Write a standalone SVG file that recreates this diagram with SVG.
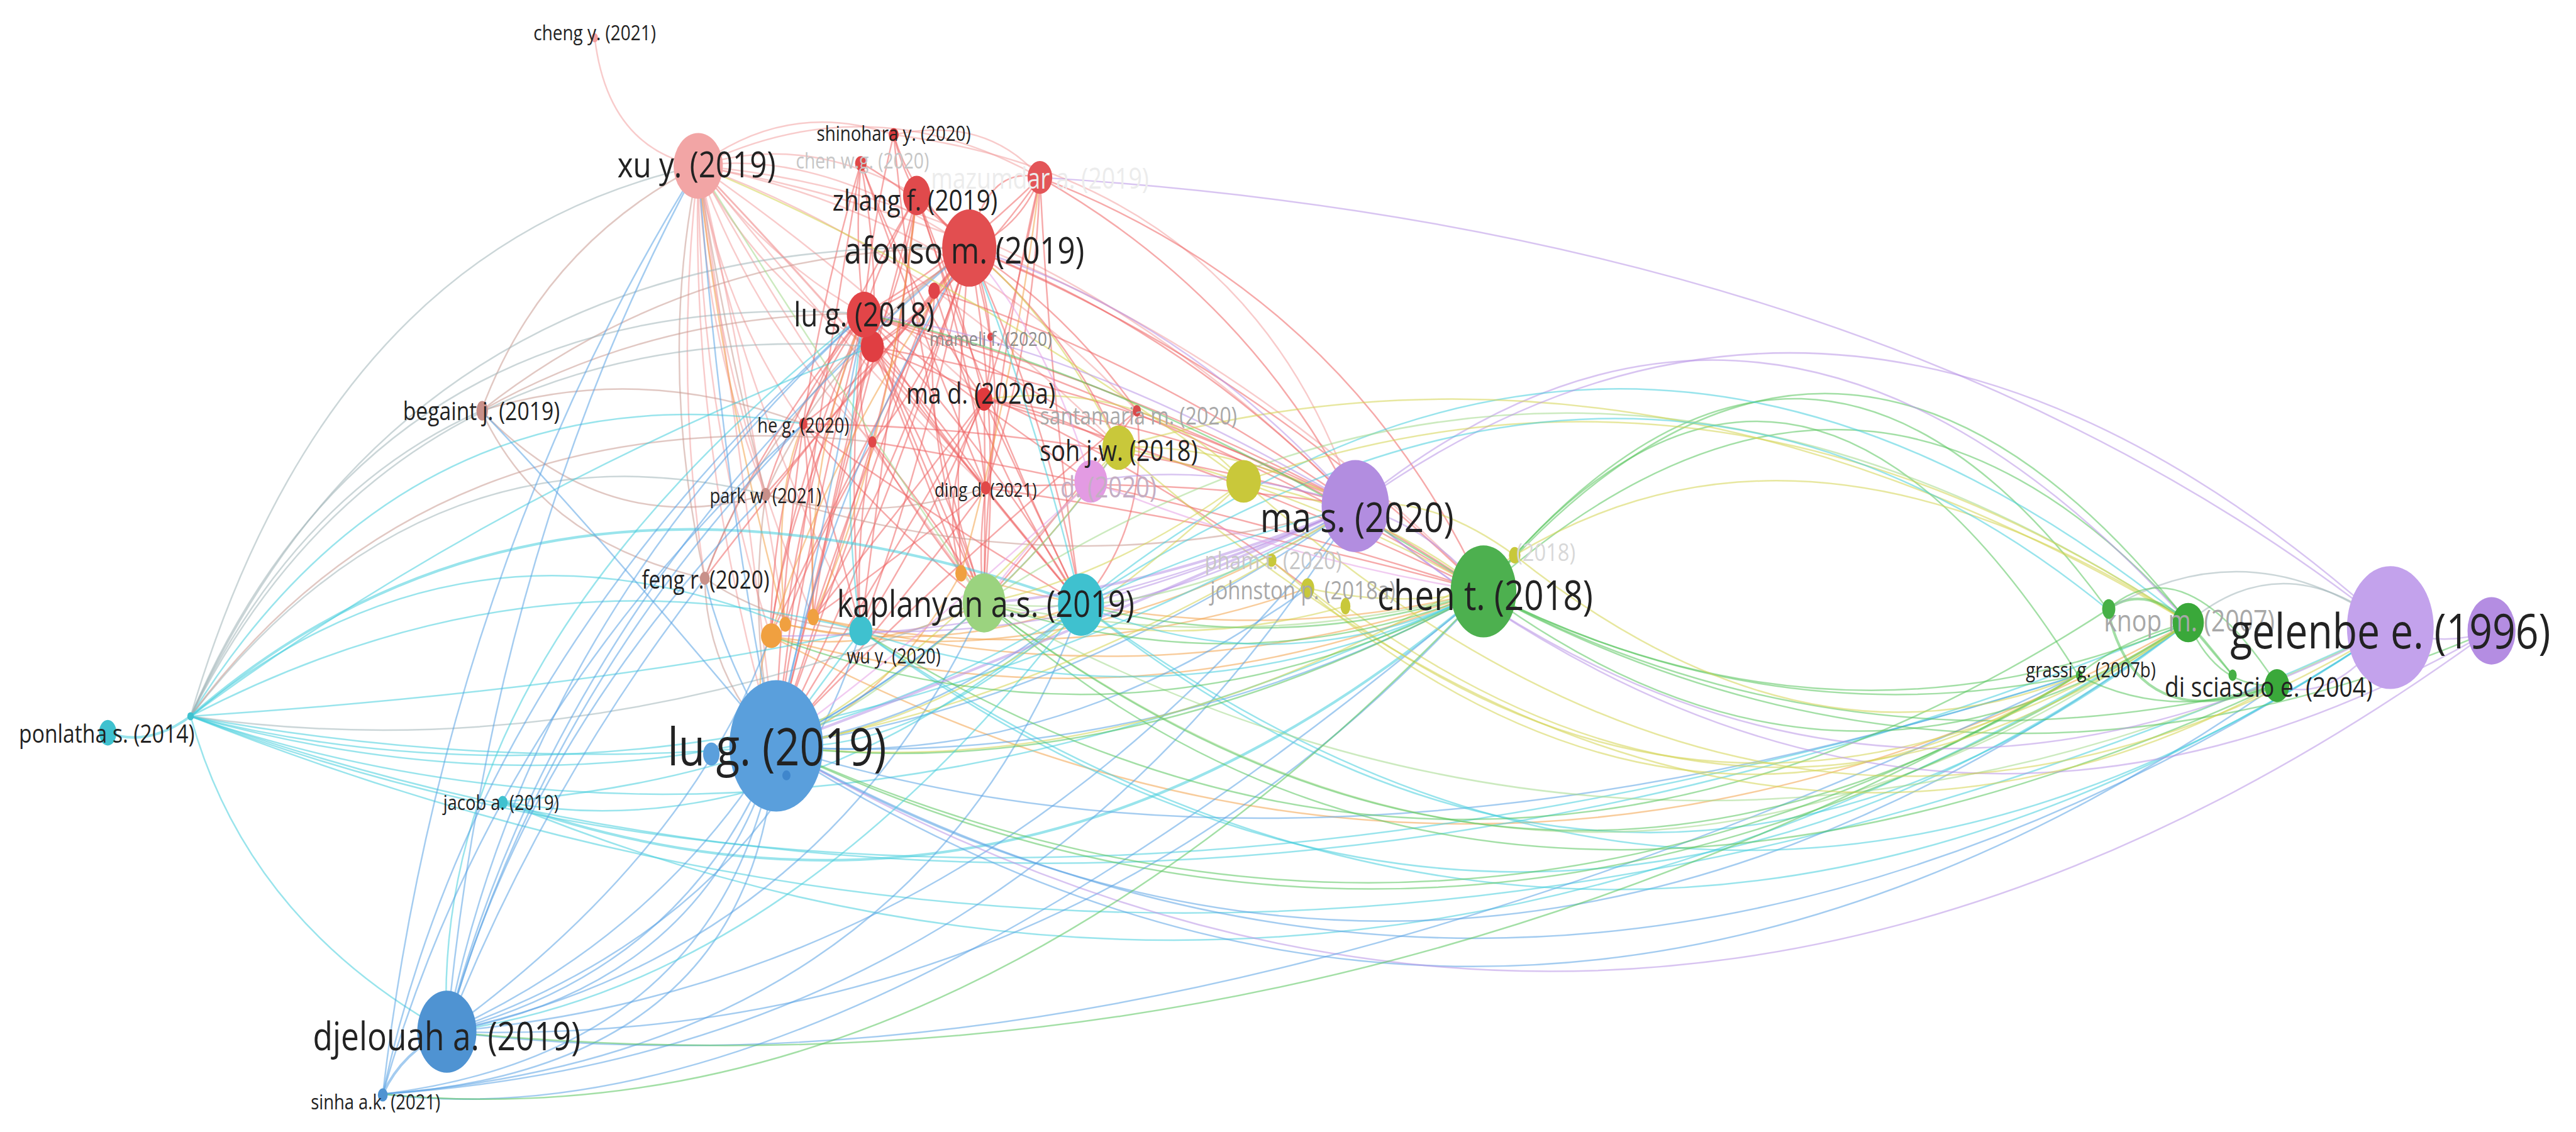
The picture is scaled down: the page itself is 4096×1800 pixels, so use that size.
<svg xmlns="http://www.w3.org/2000/svg" width="4096" height="1800" viewBox="0 0 4096 1800">
<style>
.e{fill:none;stroke-width:.95;stroke-opacity:.55}
.t{stroke-width:1.6}
.r{stroke:#ee6464}.p{stroke:#f3a0a0}.b{stroke:#5aa2e4}.c{stroke:#45cddd}.g{stroke:#58c45c}.v{stroke:#b893e6}.y{stroke:#d4d450}.o{stroke:#f3a24a}.n{stroke:#c89a92}.l{stroke:#a3d88a}.m{stroke:#e6a0e6}.s{stroke:#a0b4b8}
text{font-family:"Open Sans","Liberation Sans",sans-serif;text-anchor:middle;dominant-baseline:central;fill:#222}
.f1{fill:#ececec}.f2{fill:#c6c6c6}.f3{fill:#8c8c8c}.f4{fill:#a8a8a8}.f5{fill:#c4aec4}.f6{fill:#d8d8d8}
</style>
<rect width="4096" height="1800" fill="#fff"/>
<g transform="scale(2.6122)">
<g id="connectors">
<path class="e p" d="M425 101Q470 160 526 191"/><path class="e p" d="M425 101Q465 175 531 211"/><path class="e p" d="M425 101Q440 190 489 258"/><path class="e p" d="M425 101Q460 200 531 269"/><path class="e p" d="M425 101Q430 210 466 301"/><path class="e p" d="M425 101Q500 180 600 297"/><path class="e p" d="M425 101Q510 160 599 243"/><path class="e p" d="M425 101Q420 280 472 454"/><path class="e p" d="M425 101Q425 250 469 387"/><path class="e p" d="M425 101Q440 250 495 376"/><path class="e p" d="M425 101Q410 230 429 352"/><path class="e p" d="M425 101Q450 240 524 384"/><path class="e p" d="M425 101Q490 220 599 367"/><path class="e p" d="M425 101Q530 210 658 368"/><path class="e p" d="M425 101Q500 90 590 151"/><path class="e p" d="M425 101Q490 80 558 119"/><path class="e p" d="M425 101Q530 50 633 108"/><path class="e p" d="M425 101Q640 120 825 308"/><path class="e p" d="M425 101Q700 150 903 360"/><path class="e p" d="M425 101Q480 60 544 82"/><path class="e p" d="M362 23Q370 90 425 101"/><path class="e p" d="M425 101Q560 150 681 272"/><path class="e p" d="M425 101Q580 130 692 250"/><path class="e p" d="M425 101Q520 220 600 297"/><path class="e p" d="M425 101Q445 180 478 380"/><path class="e p" d="M425 101Q455 300 472 454"/>
<path class="e r" d="M590 151Q555 180 526 191"/><path class="e r" d="M590 151Q570 190 531 211"/><path class="e r" d="M590 151Q570 130 558 119"/><path class="e r" d="M590 151Q610 200 599 243"/><path class="e r" d="M590 151Q540 220 489 258"/><path class="e r" d="M590 151Q570 225 531 269"/><path class="e r" d="M590 151Q615 230 600 297"/><path class="e r" d="M590 151Q520 240 466 301"/><path class="e r" d="M590 151Q540 320 472 454"/><path class="e r" d="M590 151Q550 280 495 376"/><path class="e r" d="M590 151Q610 260 599 367"/><path class="e r" d="M590 151Q640 260 658 368"/><path class="e r" d="M590 151Q720 200 825 308"/><path class="e r" d="M590 151Q760 220 903 360"/><path class="e r" d="M590 151Q650 200 681 272"/><path class="e r" d="M590 151Q650 190 692 250"/><path class="e r" d="M590 151Q555 120 544 82"/><path class="e r" d="M590 151Q620 140 633 108"/><path class="e r" d="M590 151Q560 290 524 384"/><path class="e r" d="M590 151Q500 260 429 352"/><path class="e r" d="M590 151Q530 260 469 387"/><path class="e r" d="M590 151Q580 260 585 349"/><path class="e r" d="M590 151Q600 100 633 108"/>
<path class="e r" d="M558 119Q535 160 526 191"/><path class="e r" d="M558 119Q550 170 531 211"/><path class="e r" d="M558 119Q585 185 599 243"/><path class="e r" d="M558 119Q515 190 489 258"/><path class="e r" d="M558 119Q510 300 472 454"/><path class="e r" d="M558 119Q550 200 531 269"/><path class="e r" d="M558 119Q590 210 600 297"/><path class="e r" d="M558 119Q548 100 544 82"/><path class="e r" d="M558 119Q600 250 658 368"/><path class="e r" d="M558 119Q540 260 524 384"/>
<path class="e r" d="M544 82Q530 140 526 191"/><path class="e p" d="M544 82Q600 70 633 108"/><path class="e p" d="M544 82Q760 110 825 308"/><path class="e r" d="M544 82Q560 250 599 367"/>
<path class="e r" d="M524 99Q520 150 526 191"/><path class="e r" d="M524 99Q535 160 531 211"/><path class="e r" d="M524 99Q560 120 590 151"/><path class="e r" d="M524 99Q555 180 599 243"/><path class="e r" d="M524 99Q500 180 489 258"/><path class="e r" d="M524 99Q560 200 600 297"/><path class="e r" d="M524 99Q490 300 472 454"/>
<path class="e r" d="M633 108Q590 170 531 211"/><path class="e r" d="M633 108Q620 180 599 243"/><path class="e r" d="M633 108Q630 210 600 297"/><path class="e r" d="M633 108Q820 180 903 360"/><path class="e r" d="M633 108Q760 180 825 308"/><path class="e r" d="M633 108Q580 160 526 191"/><path class="e r" d="M633 108Q640 250 658 368"/><path class="e r" d="M633 108Q600 250 599 367"/>
<path class="e r" d="M526 191Q490 330 472 454"/><path class="e r" d="M526 191Q480 300 469 387"/><path class="e r" d="M526 191Q490 290 478 380"/><path class="e r" d="M526 191Q515 290 524 384"/><path class="e r" d="M526 191Q560 280 599 367"/><path class="e r" d="M526 191Q600 270 658 368"/><path class="e r" d="M526 191Q680 230 825 308"/><path class="e r" d="M526 191Q720 250 903 360"/><path class="e r" d="M526 191Q460 270 429 352"/><path class="e r" d="M526 191Q480 250 466 301"/><path class="e r" d="M526 191Q560 250 600 297"/><path class="e r" d="M526 191Q610 220 681 272"/><path class="e r" d="M526 191Q600 250 664 293"/><path class="e r" d="M526 191Q520 260 531 269"/><path class="e r" d="M526 191Q500 230 489 258"/>
<path class="e r" d="M531 211Q500 340 472 454"/><path class="e r" d="M531 211Q505 300 495 376"/><path class="e r" d="M531 211Q575 290 599 367"/><path class="e r" d="M531 211Q560 280 585 349"/><path class="e r" d="M531 211Q690 240 825 308"/><path class="e r" d="M531 211Q680 270 796 358"/><path class="e r" d="M531 211Q570 250 600 297"/><path class="e r" d="M531 211Q480 300 469 387"/><path class="e r" d="M531 211Q600 300 658 368"/>
<path class="e r" d="M599 243Q530 360 472 454"/><path class="e r" d="M599 243Q630 310 658 368"/><path class="e r" d="M599 243Q600 300 599 367"/><path class="e r" d="M599 243Q720 260 825 308"/><path class="e r" d="M599 243Q760 290 903 360"/><path class="e r" d="M599 243Q640 250 681 272"/><path class="e r" d="M599 243Q540 320 495 376"/><path class="e r" d="M599 243Q570 300 585 349"/><path class="e r" d="M599 243Q560 330 524 384"/>
<path class="e r" d="M489 258Q475 360 472 454"/><path class="e r" d="M489 258Q470 320 469 387"/><path class="e r" d="M489 258Q540 320 599 367"/><path class="e r" d="M489 258Q560 310 658 368"/><path class="e r" d="M489 258Q660 260 825 308"/><path class="e r" d="M489 258Q510 330 524 384"/><path class="e r" d="M489 258Q495 320 495 376"/>
<path class="e r" d="M531 269Q500 370 472 454"/><path class="e r" d="M531 269Q495 330 478 380"/><path class="e r" d="M531 269Q520 330 524 384"/><path class="e r" d="M531 269Q720 300 903 360"/><path class="e r" d="M531 269Q555 310 585 349"/><path class="e r" d="M531 269Q580 330 599 367"/>
<path class="e r" d="M600 297Q540 380 472 454"/><path class="e r" d="M600 297Q595 335 599 367"/><path class="e r" d="M600 297Q630 335 658 368"/><path class="e r" d="M600 297Q710 290 825 308"/><path class="e r" d="M600 297Q760 320 903 360"/><path class="e r" d="M600 297Q545 340 495 376"/>
<path class="e r" d="M692 250Q560 360 472 454"/><path class="e r" d="M692 250Q640 320 599 367"/><path class="e r" d="M692 250Q800 290 903 360"/><path class="e r" d="M692 250Q700 320 658 368"/>
<path class="e r" d="M569 177Q520 320 472 454"/><path class="e r" d="M569 177Q600 280 658 368"/><path class="e r" d="M569 177Q700 220 825 308"/><path class="e r" d="M569 177Q560 280 599 367"/><path class="e r" d="M569 177Q520 300 495 376"/>
<path class="e o" d="M469 387Q690 450 903 360"/><path class="e o" d="M478 380Q650 420 825 308"/><path class="e o" d="M495 376Q700 430 903 360"/><path class="e o" d="M585 349Q745 400 903 360"/><path class="e o" d="M469 387Q510 260 590 151"/><path class="e o" d="M478 380Q440 240 425 101"/><path class="e o" d="M495 376Q490 280 526 191"/><path class="e o" d="M585 349Q540 430 472 454"/><path class="e o" d="M469 387Q455 420 472 454"/><path class="e o" d="M495 376Q650 410 796 358"/><path class="e o" d="M478 380Q570 400 658 368"/><path class="e o" d="M585 349Q620 220 633 108"/><path class="e o" d="M469 387Q530 400 599 367"/><path class="e o" d="M469 387Q900 620 1332 379"/><path class="e o" d="M478 380Q470 300 489 258"/><path class="e o" d="M495 376Q540 280 558 119"/>
<path class="e n" d="M293 250Q400 190 526 191"/><path class="e n" d="M293 250Q330 150 425 101"/><path class="e n" d="M293 250Q370 330 466 301"/><path class="e n" d="M293 250Q390 220 489 258"/><path class="e n" d="M293 250Q420 150 590 151"/><path class="e n" d="M429 352Q430 410 472 454"/><path class="e n" d="M429 352Q400 220 425 101"/><path class="e n" d="M429 352Q470 240 590 151"/><path class="e n" d="M429 352Q470 380 524 384"/><path class="e n" d="M466 301Q455 380 472 454"/><path class="e n" d="M466 301Q440 200 425 101"/><path class="e n" d="M466 301Q500 220 590 151"/><path class="e n" d="M466 301Q530 320 600 297"/><path class="e n" d="M466 301Q650 360 825 308"/><path class="e n" d="M429 352Q330 330 293 250"/>
<path class="e s" d="M116 436Q230 170 526 191"/><path class="e s" d="M116 436Q240 190 531 211"/><path class="e c" d="M116 436Q250 220 489 258"/><path class="e s" d="M116 436Q260 250 466 301"/><path class="e n" d="M116 436Q260 240 531 269"/><path class="e s" d="M116 436Q250 140 590 151"/><path class="e s" d="M116 436Q200 150 425 101"/><path class="e c t" d="M116 436Q330 250 658 368"/><path class="e c" d="M116 436Q300 470 472 454"/><path class="e c" d="M116 436Q480 560 903 360"/><path class="e c" d="M116 436Q700 640 1332 379"/><path class="e c" d="M116 436Q450 520 825 308"/><path class="e s" d="M116 436Q350 470 599 367"/><path class="e c" d="M116 436Q150 560 272 628"/><path class="e c t" d="M116 436Q90 455 65.6 446"/><path class="e c" d="M116 436Q320 330 524 384"/><path class="e c" d="M116 436Q780 700 1455 382"/><path class="e s" d="M116 436Q180 300 293 250"/><path class="e c" d="M116 436Q280 300 478 380"/><path class="e c" d="M116 436Q300 300 531 211"/><path class="e c" d="M116 436Q420 520 658 368"/><path class="e c" d="M116 436Q360 420 524 384"/><path class="e c" d="M116 436Q600 620 1265 411"/>
<path class="e c t" d="M306 488Q620 600 903 360"/><path class="e c" d="M306 488Q480 520 658 368"/><path class="e c" d="M306 488Q400 480 472 454"/><path class="e c" d="M306 488Q820 700 1332 379"/><path class="e c" d="M272 628Q260 400 526 191"/>
<path class="e b" d="M272 628Q420 590 472 454"/><path class="e b" d="M272 628Q430 600 472 454"/><path class="e b" d="M272 628Q400 570 472 454"/><path class="e b" d="M233 666Q440 640 472 454"/><path class="e b" d="M233 666Q460 650 472 454"/><path class="e b" d="M272 628Q470 560 524 384"/><path class="e b" d="M272 628Q500 580 599 367"/><path class="e b" d="M272 628Q420 520 469 387"/><path class="e b" d="M272 628Q600 600 825 308"/><path class="e b" d="M272 628Q650 640 903 360"/><path class="e b" d="M233 666Q620 640 825 308"/><path class="e b" d="M233 666Q560 640 658 368"/><path class="e b" d="M272 628Q320 380 526 191"/><path class="e b" d="M272 628Q300 330 425 101"/><path class="e b" d="M272 628Q340 360 590 151"/><path class="e b" d="M272 628Q330 420 489 258"/><path class="e b" d="M272 628Q320 450 466 301"/><path class="e b" d="M233 666Q290 400 526 191"/><path class="e b" d="M233 666Q270 350 425 101"/><path class="e b t" d="M233 666Q245 640 272 628"/><path class="e b" d="M272 628Q330 480 429 352"/><path class="e b" d="M233 666Q300 430 489 258"/>
<path class="e b" d="M472 454Q440 300 425 101"/><path class="e b" d="M472 454Q500 300 590 151"/><path class="e b" d="M472 454Q500 330 526 191"/><path class="e b" d="M472 454Q650 430 825 308"/><path class="e b" d="M472 454Q700 470 903 360"/><path class="e b" d="M472 454Q950 720 1455 382"/><path class="e b" d="M472 454Q900 700 1332 379"/><path class="e b" d="M472 454Q920 740 1386 417"/><path class="e b" d="M472 454Q540 420 599 367"/><path class="e b" d="M472 454Q570 440 658 368"/><path class="e b" d="M472 454Q360 320 293 250"/><path class="e b" d="M472 454Q440 400 429 352"/><path class="e b" d="M472 454Q640 470 796 358"/><path class="e b" d="M472 454Q600 390 681 272"/><path class="e v" d="M472 454Q1000 760 1516 384"/><path class="e b" d="M233 666Q500 700 903 360"/><path class="e b" d="M272 628Q700 680 1265 411"/><path class="e b" d="M472 454Q800 560 1265 411"/>
<path class="e c" d="M658 368Q1000 640 1332 379"/><path class="e c" d="M658 368Q1050 660 1455 382"/><path class="e c" d="M524 384Q930 680 1332 379"/><path class="e l" d="M599 367Q960 640 1332 379"/><path class="e g" d="M599 367Q930 620 1265 411"/><path class="e c" d="M524 384Q980 700 1455 382"/><path class="e l" d="M599 367Q1020 600 1455 382"/><path class="e g" d="M1265 411Q880 640 472 454"/><path class="e g" d="M1283 371Q900 620 524 384"/><path class="e g" d="M1265 411Q800 680 272 628"/><path class="e g" d="M1332 379Q900 660 472 454"/><path class="e g" d="M1386 417Q900 640 599 367"/>
<path class="e g" d="M903 360Q1120 470 1332 379"/><path class="e g" d="M903 360Q1080 450 1265 411"/><path class="e g" d="M903 360Q1130 480 1386 417"/><path class="e g" d="M903 360Q1120 110 1332 379"/><path class="e g" d="M903 360Q1090 130 1265 411"/><path class="e g" d="M903 360Q1100 120 1283 371"/><path class="e g" d="M903 360Q1150 140 1359 411"/><path class="e g" d="M903 360Q1120 520 1332 379"/><path class="e g" d="M903 360Q1200 520 1516 384"/>
<path class="e v" d="M825 308Q1080 100 1332 379"/><path class="e c" d="M658 368Q990 100 1332 379"/><path class="e l" d="M599 367Q960 130 1332 379"/><path class="e y" d="M681 272Q1000 180 1332 379"/><path class="e v" d="M825 308Q1130 90 1455 382"/><path class="e v" d="M633 108Q1150 140 1455 382"/><path class="e y" d="M757 293Q1050 190 1332 379"/><path class="e y" d="M796 358Q1050 560 1332 379"/><path class="e y" d="M774 341Q1020 560 1265 411"/><path class="e y" d="M922 338Q1100 230 1332 379"/><path class="e v" d="M825 308Q1120 560 1455 382"/><path class="e v" d="M825 308Q1160 590 1516 384"/><path class="e c" d="M658 368Q1000 140 1283 371"/><path class="e y" d="M757 293Q1100 600 1455 382"/><path class="e y" d="M681 272Q1050 600 1386 417"/><path class="e y" d="M922 338Q1100 480 1265 411"/><path class="e y" d="M819 369Q1080 560 1332 379"/>
<path class="e g" d="M1332 379Q1290 390 1265 411"/><path class="e g" d="M1332 379Q1350 420 1386 417"/><path class="e g t" d="M1332 379Q1305 355 1283 371"/><path class="e g t" d="M1283 371Q1300 450 1386 417"/><path class="e g" d="M1332 379Q1345 395 1359 411"/><path class="e g" d="M1265 411Q1320 440 1386 417"/><path class="e s" d="M1455 382Q1390 330 1332 379"/><path class="e s" d="M1455 382Q1370 320 1283 371"/><path class="e v" d="M1455 382Q1485 395 1516 384"/><path class="e v" d="M1386 417Q1420 430 1455 382"/><path class="e g" d="M1283 371Q1330 330 1386 417"/>
<path class="e y" d="M681 272Q750 270 825 308"/><path class="e y" d="M681 272Q800 300 903 360"/><path class="e y" d="M681 272Q560 410 472 454"/><path class="e y" d="M681 272Q640 330 599 367"/><path class="e y" d="M757 293Q840 310 903 360"/><path class="e y" d="M757 293Q600 440 472 454"/><path class="e y" d="M757 293Q680 350 599 367"/><path class="e y" d="M796 358Q850 370 903 360"/><path class="e y" d="M774 341Q620 430 472 454"/><path class="e y" d="M819 369Q710 400 599 367"/><path class="e y" d="M922 338Q870 300 825 308"/><path class="e y" d="M922 338Q700 480 472 454"/><path class="e y" d="M681 272Q640 190 590 151"/><path class="e y" d="M757 293Q590 170 425 101"/><path class="e y" d="M757 293Q700 230 599 243"/>
<path class="e v t" d="M825 308Q620 400 472 454"/><path class="e v t" d="M825 308Q700 360 599 367"/><path class="e v" d="M825 308Q730 350 658 368"/><path class="e v" d="M825 308Q740 280 664 293"/><path class="e v" d="M825 308Q870 320 903 360"/><path class="e v" d="M825 308Q640 390 469 387"/><path class="e v" d="M825 308Q680 390 524 384"/><path class="e v" d="M825 308Q660 210 526 191"/><path class="e v" d="M825 308Q720 190 590 151"/>
<path class="e m" d="M664 293Q560 390 472 454"/><path class="e m" d="M664 293Q780 340 903 360"/><path class="e m" d="M664 293Q640 210 590 151"/><path class="e m" d="M664 293Q625 330 599 367"/>
<path class="e g" d="M903 360Q680 480 472 454"/><path class="e g" d="M903 360Q760 420 599 367"/><path class="e g" d="M903 360Q780 400 658 368"/><path class="e g" d="M903 360Q700 230 526 191"/><path class="e g" d="M903 360Q690 470 469 387"/><path class="e g" d="M903 360Q580 700 233 666"/>
<path class="e l" d="M599 367Q500 220 425 101"/><path class="e l" d="M599 367Q760 400 903 360"/><path class="e l" d="M599 367Q530 430 472 454"/><path class="e l" d="M599 367Q720 380 825 308"/>
<path class="e c" d="M658 368Q560 460 472 454"/><path class="e c" d="M658 368Q740 330 825 308"/><path class="e c" d="M658 368Q780 420 903 360"/><path class="e c" d="M658 368Q480 600 272 628"/><path class="e c" d="M658 368Q630 250 590 151"/><path class="e c" d="M524 384Q490 430 472 454"/><path class="e c" d="M524 384Q720 450 903 360"/><path class="e c" d="M524 384Q510 290 526 191"/>
</g>
<g id="n-mazumdar"><ellipse cx="633" cy="108" rx="7.5" ry="10" fill="#e35558"/><text class="f1" transform="translate(633 108) scale(1 1.2)" font-size="14.3">mazumdar a. (2019)</text></g>
<g id="n-chen-w"><ellipse cx="524" cy="99.5" rx="3.5" ry="4.5" fill="#e04848"/><text class="f2" transform="translate(525 97.7) scale(1 1.2)" font-size="10.8">chen w.g. (2020)</text></g>
<g id="n-mameli"><ellipse cx="603" cy="205" rx="2" ry="2.5" fill="#e04848"/><text class="f3" transform="translate(603 205.7) scale(1 1.2)" font-size="10">mameli f. (2020)</text></g>
<g id="n-santamaria"><ellipse cx="692" cy="250" rx="2.5" ry="3.5" fill="#d84a4a"/><text class="f4" transform="translate(693 252.5) scale(1 1.2)" font-size="12.2">santamaria m. (2020)</text></g>
<g id="n-pink-d"><ellipse cx="664" cy="293" rx="10" ry="13" fill="#e39be3"/><text class="f5" style="text-anchor:end" transform="translate(704 296) scale(1 1.2)" font-size="14.6">d. (2020)</text></g>
<g id="n-pham"><ellipse cx="774" cy="341" rx="3" ry="4" fill="#c8c83a"/><text class="f2" transform="translate(775 340.7) scale(1 1.2)" font-size="12.4">pham t. (2020)</text></g>
<g id="n-johnston"><ellipse cx="796" cy="358" rx="4" ry="6" fill="#c8c83a"/><text class="f4" transform="translate(793 359) scale(1 1.2)" font-size="12.6">johnston p. (2018a)</text></g>
<g id="n-yellow-24"><ellipse cx="819" cy="369" rx="3" ry="5" fill="#c8c83a"/></g>
<g id="n-yellow-2018"><ellipse cx="922" cy="338" rx="3.5" ry="5" fill="#c8c83a"/><text class="f6" style="text-anchor:end" transform="translate(959 335.5) scale(1 1.2)" font-size="12.5">(2018)</text></g>
<g id="n-knop"><ellipse cx="1332" cy="379" rx="9.5" ry="12" fill="#3aa83a"/><text class="f4" transform="translate(1332.6 377.5) scale(1 1.2)" font-size="15">knop m. (2007)</text></g>
<g id="n-green-45"><ellipse cx="1283.6" cy="370.7" rx="4" ry="6" fill="#46b046"/></g>
<g id="n-green-48"><ellipse cx="1359" cy="411" rx="2.5" ry="3.5" fill="#46b046"/></g>
<g id="n-red-211"><ellipse cx="531" cy="211" rx="7" ry="9.5" fill="#e03e42"/></g>
<g id="n-red-177"><ellipse cx="568.6" cy="177" rx="3.5" ry="5" fill="#e04448"/></g>
<g id="n-red-269"><ellipse cx="531" cy="269" rx="2.5" ry="3.5" fill="#e04848"/></g>
<g id="n-orange-28"><ellipse cx="585" cy="349" rx="3.5" ry="5" fill="#f0a040"/></g>
<g id="n-orange-29"><ellipse cx="469.5" cy="387" rx="6.3" ry="7.5" fill="#f0a040"/></g>
<g id="n-orange-30"><ellipse cx="478" cy="380" rx="3.5" ry="4.5" fill="#f0a040"/></g>
<g id="n-orange-31"><ellipse cx="495" cy="375.6" rx="3.5" ry="5" fill="#f0a040"/></g>
<g id="n-yellow-19"><ellipse cx="757" cy="293" rx="10.5" ry="13" fill="#c9c83a"/></g>
<g id="n-hub"><ellipse cx="116" cy="436" rx="2" ry="2.5" fill="#3fc1cf"/></g>
<g id="n-blue-small"><ellipse cx="433" cy="459" rx="5" ry="7" fill="#5a9fdc"/></g>
<g id="n-teal"><ellipse cx="658" cy="368" rx="14" ry="19" fill="#3fc1cf"/></g>
<g id="n-teal-small"><ellipse cx="524" cy="384" rx="7" ry="9" fill="#3fc1cf"/></g>
<g id="n-purple2"><ellipse cx="1516.6" cy="384" rx="14.6" ry="20.5" fill="#b48de2"/></g>
<g id="n-cheng"><ellipse cx="362" cy="23" rx="2" ry="2.8" fill="#f4a0a0"/><text transform="translate(362 19.5) scale(1 1.2)" font-size="10.7">cheng y. (2021)</text></g>
<g id="n-shinohara"><ellipse cx="544" cy="82" rx="3" ry="4" fill="#d83a3d"/><text transform="translate(544 80.7) scale(1 1.2)" font-size="10.6">shinohara y. (2020)</text></g>
<g id="n-xu"><ellipse cx="425" cy="101" rx="15" ry="20" fill="#f2a5a5"/><text transform="translate(424 99.5) scale(1 1.2)" font-size="18.2">xu y. (2019)</text></g>
<g id="n-zhang"><ellipse cx="558" cy="119" rx="8.3" ry="12" fill="#e04a4c"/><text transform="translate(557 121.3) scale(1 1.2)" font-size="14.8">zhang f. (2019)</text></g>
<g id="n-afonso"><ellipse cx="590" cy="151" rx="16.5" ry="23.5" fill="#e24e50"/><text transform="translate(587 151.6) scale(1 1.2)" font-size="18.8">afonso m. (2019)</text></g>
<g id="n-lu-2018"><ellipse cx="526" cy="191.5" rx="10.5" ry="14" fill="#e24548"/><text transform="translate(526 190.8) scale(1 1.2)" font-size="16.9">lu g. (2018)</text></g>
<g id="n-ma-d"><ellipse cx="599" cy="243" rx="5" ry="7" fill="#e03a3d"/><text transform="translate(597 239) scale(1 1.2)" font-size="14.4">ma d. (2020a)</text></g>
<g id="n-he-g"><ellipse cx="489" cy="258" rx="2.5" ry="3.5" fill="#e04848"/><text transform="translate(489 258.7) scale(1 1.2)" font-size="10.4">he g. (2020)</text></g>
<g id="n-begaint"><ellipse cx="293.5" cy="250" rx="3.5" ry="6" fill="#c8908a"/><text transform="translate(293 249.7) scale(1 1.2)" font-size="12.9">begaint j. (2019)</text></g>
<g id="n-park"><ellipse cx="466" cy="301" rx="3" ry="4" fill="#c8908a"/><text transform="translate(466 301.4) scale(1 1.2)" font-size="10.4">park w. (2021)</text></g>
<g id="n-ding"><ellipse cx="600" cy="297" rx="3" ry="4" fill="#e04848"/><text transform="translate(600 297.7) scale(1 1.2)" font-size="9.9">ding d. (2021)</text></g>
<g id="n-soh"><ellipse cx="681" cy="272.5" rx="10" ry="13.5" fill="#c9c83a"/><text transform="translate(681 273.8) scale(1 1.2)" font-size="14.5">soh j.w. (2018)</text></g>
<g id="n-feng"><ellipse cx="429" cy="352" rx="3" ry="4" fill="#c8908a"/><text transform="translate(429.5 352.6) scale(1 1.2)" font-size="12.7">feng r. (2020)</text></g>
<g id="n-kaplanyan"><ellipse cx="599" cy="367" rx="13" ry="18" fill="#9bd37f"/><text transform="translate(600 367) scale(1 1.2)" font-size="18.6">kaplanyan a.s. (2019)</text></g>
<g id="n-wu-y"><text transform="translate(544 399.2) scale(1 1.2)" font-size="10.3">wu y. (2020)</text></g>
<g id="n-ma-s"><ellipse cx="825" cy="308" rx="20.5" ry="28" fill="#b28de0"/><text transform="translate(826 314) scale(1 1.2)" font-size="21">ma s. (2020)</text></g>
<g id="n-chen-t"><ellipse cx="903" cy="360" rx="20" ry="28" fill="#4db04f"/><text transform="translate(904 361.6) scale(1 1.2)" font-size="20.9">chen t. (2018)</text></g>
<g id="n-ponlatha"><ellipse cx="65.6" cy="446" rx="5.3" ry="7.8" fill="#3fc1cf"/><text transform="translate(65 446) scale(1 1.2)" font-size="12.9">ponlatha s. (2014)</text></g>
<g id="n-jacob"><ellipse cx="306" cy="488.5" rx="3" ry="4" fill="#3fc1cf"/><text transform="translate(305 488.4) scale(1 1.2)" font-size="10.5">jacob a. (2019)</text></g>
<g id="n-lu-2019"><ellipse cx="472.5" cy="454" rx="28.5" ry="40" fill="#5a9fdc"/><ellipse cx="478.7" cy="472" rx="2.5" ry="3" fill="#3f86cc"/><text transform="translate(473 453.7) scale(1 1.2)" font-size="26.3">lu g. (2019)</text></g>
<g id="n-djelouah"><ellipse cx="272" cy="628" rx="18" ry="25" fill="#4f93d2"/><text transform="translate(272 630.2) scale(1 1.2)" font-size="19.7">djelouah a. (2019)</text></g>
<g id="n-sinha"><ellipse cx="233" cy="666.5" rx="3" ry="4" fill="#4f93d2"/><text transform="translate(228.6 670.6) scale(1 1.2)" font-size="10.5">sinha a.k. (2021)</text></g>
<g id="n-grassi"><ellipse cx="1265.6" cy="411" rx="2" ry="3" fill="#46b046"/><text transform="translate(1272.7 407.5) scale(1 1.2)" font-size="10.5">grassi g. (2007b)</text></g>
<g id="n-di-sciascio"><ellipse cx="1386" cy="417.3" rx="7.5" ry="10" fill="#3aa83a"/><text transform="translate(1381 417.6) scale(1 1.2)" font-size="14.2">di sciascio e. (2004)</text></g>
<g id="n-gelenbe"><ellipse cx="1455" cy="382" rx="26.4" ry="37.4" fill="#c3a2ec"/><text transform="translate(1455 383.2) scale(1 1.2)" font-size="24.6">gelenbe e. (1996)</text></g>
</g>
</svg>
